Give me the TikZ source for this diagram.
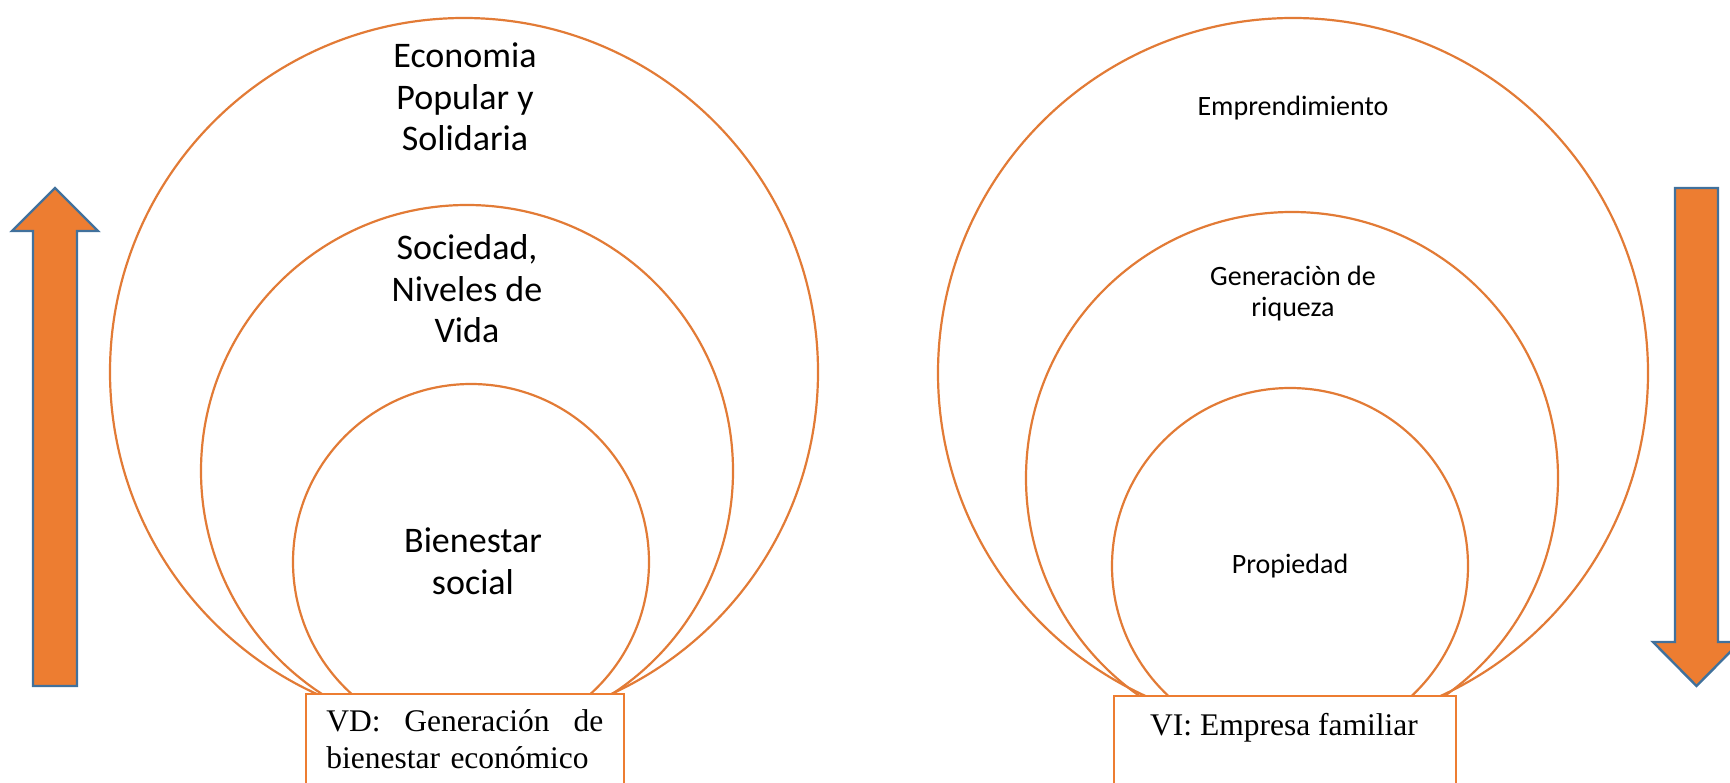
\documentclass[tikz,border=0pt]{standalone}
\usepackage{fontspec}
\setmainfont{Liberation Serif}
\newfontfamily\calibri{Carlito}
\usepackage{xcolor}
\usepackage{tikz}
\definecolor{ringorange}{HTML}{E27B36}
\definecolor{arroworange}{HTML}{ED7D31}
\definecolor{arrowblue}{HTML}{41719C}
\tikzset{
  ring/.style={draw=ringorange, line width=2.2pt},
  varbox/.style={draw=arroworange, fill=white, line width=1.6pt, inner sep=0pt},
  bigarrow/.style={fill=arroworange, draw=arrowblue, line width=2.4pt, line join=miter},
  bigtxt/.style={align=center, inner sep=0pt, anchor=base, font=\calibri\fontsize{36}{41.5}\selectfont},
  smalltxt/.style={align=center, inner sep=0pt, anchor=base, font=\calibri\fontsize{28}{31.5}\selectfont},
  boxtxt/.style={inner sep=0pt, font=\fontsize{31.5}{36.5}\selectfont}
}

\begin{document}
\begin{tikzpicture}[x=1pt,y=-1pt]
\useasboundingbox (0,0) rectangle (1730,783);
% arrows
\draw[bigarrow] (33,686) -- (33,231) -- (12,231) -- (55,188) -- (98,231) -- (77,231) -- (77,686) -- cycle;
\draw[bigarrow] (1675,188) -- (1718,188) -- (1718,642) -- (1740,642) -- (1696.5,686) -- (1653,642) -- (1675,642) -- cycle;
% left rings (base = last line)
\draw[ring] (464,372) circle (354);
\draw[ring] (467,471) circle (266);
\draw[ring] (471,562) circle (178);
\node (eps) [bigtxt] at (465,151) {Economia\\Popular y\\Solidaria};
\node (soc) [bigtxt] at (467,343) {Sociedad,\\Niveles de\\Vida};
\node (bien) [bigtxt] at (473,594) {Bienestar\\social};
\node (vdbox) [varbox, boxtxt, anchor=north west, minimum width=318pt, minimum height=91pt, text width=277pt, align=left] at (305,693) {VD:\hfill Generación\hfill de\\bienestar económico};
% right rings
\draw[ring] (1293,373) circle (355);
\draw[ring] (1292,478) circle (266);
\draw[ring] (1290,566) circle (178);
\node (empr) [smalltxt] at (1293,116) {Emprendimiento};
\node (riq) [smalltxt] at (1293,317) {Generaciòn de\\riqueza};
\node (prop) [smalltxt] at (1290,573) {Propiedad};
\node (vibox) [varbox, anchor=north west, minimum width=342pt, minimum height=90pt] at (1113,695) {};
\node (vitext) [boxtxt, anchor=base] at (1284,735) {VI: Empresa familiar};
\end{tikzpicture}
\end{document}
